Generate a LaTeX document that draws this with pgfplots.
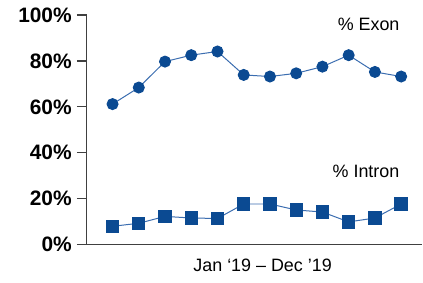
\documentclass[border=0pt]{standalone}
\usepackage{pgfplots}
\pgfplotsset{compat=1.18}
\usepackage{fontspec}
\setmainfont{Liberation Sans}
\definecolor{mk}{HTML}{0B4A92}
\definecolor{ln}{HTML}{3B6DB0}
\definecolor{ax}{HTML}{404040}
\begin{document}
\begin{tikzpicture}
\begin{axis}[
  scale only axis,
  width=336bp, height=230bp,
  xmin=-0.978, xmax=11.81,
  ymin=0, ymax=100,
  axis x line*=bottom,
  axis y line*=left,
  axis line style={ax, line width=1.2bp},
  xtick=\empty,
  ytick={0,20,40,60,80,100},
  yticklabels={0\%,20\%,40\%,60\%,80\%,100\%},
  tick align=outside,
  major tick length=10bp,
  tick style={ax, line width=1.2bp},
  /pgf/number format/assume math mode=true,
  yticklabel style={font=\fontsize{21}{21}\selectfont\bfseries, inner sep=0pt, anchor=east, xshift=-5bp},
  clip=false,
]
\coordinate (bl) at (rel axis cs:0,0);
\addplot[ln, line width=1bp, mark=*, mark size=5.5bp, mark options={mk, fill=mk, draw=mk}] coordinates {
(0,61.2) (1,68.4) (2,79.7) (3,82.5) (4,84.1) (5,73.9) (6,73.2) (7,74.6) (8,77.5) (9,82.5) (10,75.2) (11,73.2)};
\addplot[ln, line width=1bp, mark=square*, mark size=6.2bp, mark options={mk, fill=mk, draw=mk}] coordinates {
(0,8.0) (1,9.3) (2,12.3) (3,11.6) (4,11.4) (5,17.7) (6,17.7) (7,15.1) (8,14.2) (9,9.9) (10,11.6) (11,17.7)};
\node[font=\fontsize{18}{18}\selectfont] at (axis cs:9.76,95.7) {\% Exon};
\node[font=\fontsize{18}{18}\selectfont] at (axis cs:9.66,31.7) {\% Intron};
\node[font=\fontsize{18}{18}\selectfont] at (axis cs:5.72,-9.1) {Jan ‘19 – Dec ’19};
\end{axis}
\path[use as bounding box] (bl) ++(-87bp,-38bp) rectangle ++(423bp,283bp);
\end{tikzpicture}
\end{document}
